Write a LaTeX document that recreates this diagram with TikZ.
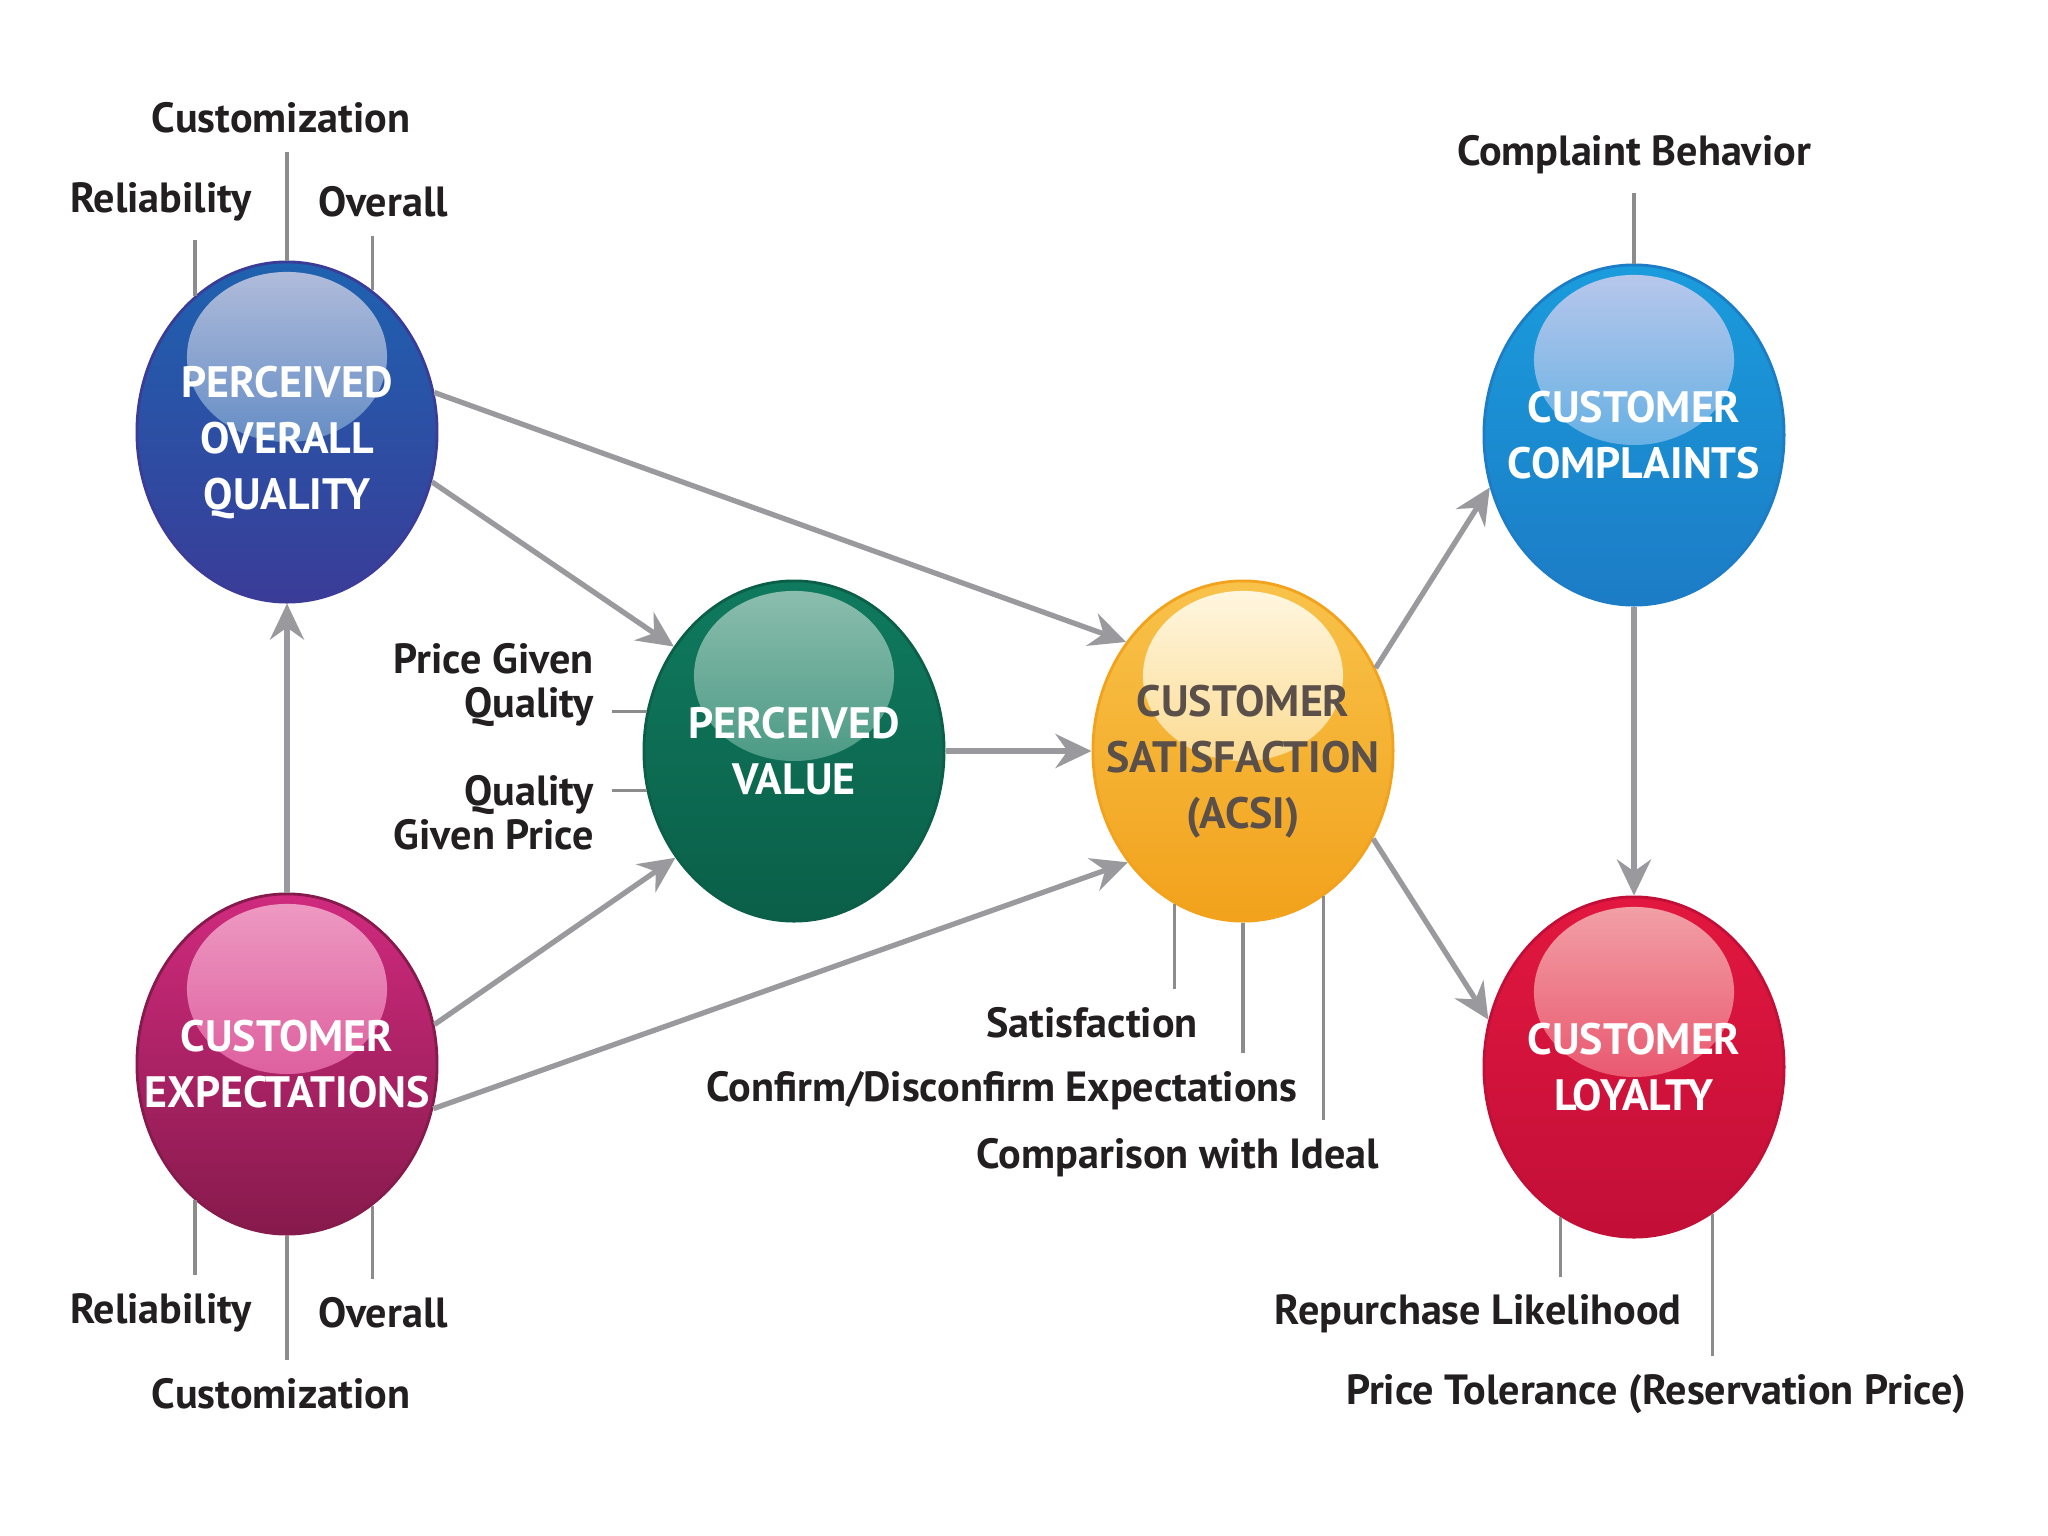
\documentclass[tikz,border=0pt]{standalone}
\usepackage{fontspec}
\setmainfont{PT Sans}
\usetikzlibrary{shapes.geometric, arrows.meta}

\definecolor{pqblue}{HTML}{1E62B0}
\definecolor{pqdark}{HTML}{3A3C98}
\definecolor{pqlight}{HTML}{B4BEDC}
\definecolor{cepink}{HTML}{D02A7E}
\definecolor{cedark}{HTML}{861A4C}
\definecolor{celight}{HTML}{EE9CC4}
\definecolor{pvgreen}{HTML}{0F7A5E}
\definecolor{pvdark}{HTML}{0B5F49}
\definecolor{pvlight}{HTML}{8FBFB0}
\definecolor{csorange}{HTML}{F8C24A}
\definecolor{csdark}{HTML}{F2A21C}
\definecolor{cslight}{HTML}{FFF8E4}
\definecolor{ccblue}{HTML}{1A9CDC}
\definecolor{ccdark}{HTML}{1C7CC6}
\definecolor{cclight}{HTML}{BCC8EC}
\definecolor{clred}{HTML}{E2173F}
\definecolor{cldark}{HTML}{C20F38}
\definecolor{cllight}{HTML}{F2A3A8}
\definecolor{linkgrey}{HTML}{9A9A9E}
\definecolor{tickgrey}{HTML}{8C8C8C}
\definecolor{labeltext}{HTML}{231F20}
\definecolor{acsitext}{HTML}{5B4F49}

\begin{document}
\begin{tikzpicture}[
  x=0.01cm, y=-0.01cm,
  ball/.style n args={3}{ellipse, minimum width=3cm, minimum height=3.4cm,
                 inner xsep=-1cm, inner ysep=0pt,
                 top color=#1, middle color=#1, bottom color=#2, draw=#2, line width=0.8pt,
                 text=white, font=\fontsize{12.5}{16}\selectfont\bfseries, align=center,
                 path picture={
                   \shade[top color=#3, bottom color=#1]
                     ([yshift=-0.95cm]path picture bounding box.north) ellipse (1cm and 0.85cm);
                 }},
  threeline/.style={text height=47pt},
  indic/.style={font=\fontsize{12}{12.5}\selectfont\bfseries, text=labeltext, inner sep=5pt},
  linkarrow/.style={-{Stealth[length=0.36cm, width=0.34cm, inset=0.12cm]},
                    line width=1.5pt, draw=linkgrey},
  stem/.style={line width=0.9pt, draw=tickgrey},
]
  \fill[white] (0,0) rectangle (2048,1536);
  \useasboundingbox (0,0) rectangle (2048,1536);

  % Balls
  \node[ball={pqblue}{pqdark}{pqlight}, threeline] (quality) at (287,432) {PERCEIVED\\OVERALL\\QUALITY};
  \node[ball={cepink}{cedark}{celight}] (expect) at (287,1064) {CUSTOMER\\EXPECTATIONS};
  \node[ball={pvgreen}{pvdark}{pvlight}] (value) at (794,751) {PERCEIVED\\VALUE};
  \node[ball={csorange}{csdark}{cslight}, threeline, text=acsitext] (csat) at (1243,751)
       {CUSTOMER\\SATISFACTION\\(ACSI)};
  \node[ball={ccblue}{ccdark}{cclight}] (compl) at (1634,435) {CUSTOMER\\COMPLAINTS};
  \node[ball={clred}{cldark}{cllight}] (loyal) at (1634,1067) {CUSTOMER\\LOYALTY};

  % Indicators
  \node[indic] (qcus) at (281,118) {Customization};
  \node[indic] (qrel) at (161,202) {Reliability};
  \node[indic] (qall) at (383,202) {Overall};
  \node[indic] (ecus) at (281,1394) {Customization};
  \node[indic] (erel) at (161,1313) {Reliability};
  \node[indic] (eall) at (383,1313) {Overall};
  \node[indic, anchor=east, align=right] (vpgq) at (612,685) {Price Given\\Quality};
  \node[indic, anchor=east, align=right] (vqgp) at (612,813) {Quality\\Given Price};
  \node[indic] (ssat) at (1092,1023) {Satisfaction};
  \node[indic] (scon) at (1002,1091) {Confirm/Disconfirm Expectations};
  \node[indic] (scmp) at (1178,1158) {Comparison with Ideal};
  \node[indic] (cbeh) at (1634,155) {Complaint Behavior};
  \node[indic] (lrep) at (1478,1314) {Repurchase Likelihood};
  \node[indic] (ltol) at (1656,1394) {Price Tolerance (Reservation Price)};

  % Stems
  \foreach \a/\l in {124/qrel, north/qcus, 59/qall}
    \draw[stem] (quality.\a) -- (quality.\a |- \l.south);
  \foreach \a/\l in {236/erel, south/ecus, 301/eall}
    \draw[stem] (expect.\a) -- (expect.\a |- \l.north);
  \foreach \a/\l in {246/ssat, south/scon, 299/scmp}
    \draw[stem] (csat.\a) -- (csat.\a |- \l.north);
  \foreach \a/\l in {244/lrep, 298/ltol}
    \draw[stem] (loyal.\a) -- (loyal.\a |- \l.north);
  \draw[stem] (compl.north) -- (compl.north |- cbeh.south);
  \draw[stem] (value.165) -- (value.165 -| vpgq.east);
  \draw[stem] (value.195) -- (value.195 -| vqgp.east);

  % Arrows
  \draw[linkarrow] (expect.north) -- (quality.south);
  \draw[linkarrow] (quality.-19) -- (value.139);
  \draw[linkarrow] (quality.15) -- (csat.137);
  \draw[linkarrow] (expect.15) -- (value.222);
  \draw[linkarrow] (expect.-17) -- (csat.224);
  \draw[linkarrow] (value.east) -- (csat.west);
  \draw[linkarrow] (csat.32) -- (compl.200);
  \draw[linkarrow] (csat.-34) -- (loyal.162);
  \draw[linkarrow] (compl.south) -- (loyal.north);
\end{tikzpicture}
\end{document}
